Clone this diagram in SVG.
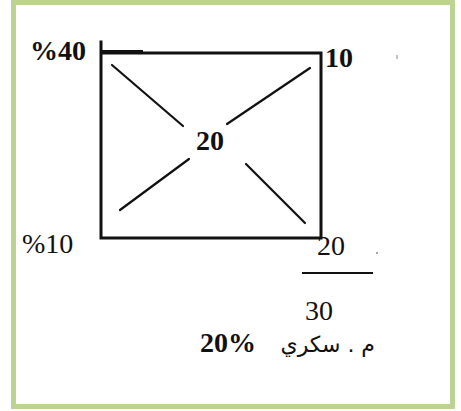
<svg xmlns="http://www.w3.org/2000/svg" width="461" height="411" viewBox="0 0 461 411">
<style>
text{font-family:"Liberation Serif","Times New Roman","DejaVu Serif",serif;fill:#111;font-size:28px}
.b{font-weight:bold}
.ar{font-family:"DejaVu Sans","Noto Sans",sans-serif;font-size:22px;font-weight:normal}
.edge{stroke:#111;stroke-width:3;fill:none;stroke-linecap:square}
.diag{stroke:#111;stroke-width:2.2;fill:none;stroke-linecap:round}
</style>
<rect x="0" y="0" width="461" height="411" fill="#ffffff"/>
<rect x="13.5" y="2.5" width="439" height="404" fill="#ffffff" stroke="#bdd391" stroke-width="5"/>
<g id="connectors">
<path class="edge" d="M101,42 V238 H321 V53 H101"/>
<path d="M101,51.5 H143" stroke="#111" stroke-width="3"/>
<line class="diag" x1="112" y1="65" x2="183" y2="126"/>
<line class="diag" x1="227" y1="124" x2="310" y2="68"/>
<line class="diag" x1="189" y1="159" x2="120" y2="210"/>
<line class="diag" x1="246" y1="164" x2="305" y2="223"/>
<line x1="302" y1="273" x2="373" y2="273" stroke="#111" stroke-width="2"/>
<line x1="397" y1="55" x2="397" y2="59" stroke="#888" stroke-width="1"/>
<line x1="377" y1="252" x2="377" y2="254" stroke="#888" stroke-width="1.5"/>
</g>
<g id="node-tl"><text class="b" x="30" y="60">%40</text></g>
<g id="node-tr"><text class="b" x="325" y="67">10</text></g>
<g id="node-center"><text class="b" x="210" y="150" text-anchor="middle">20</text></g>
<g id="node-bl"><text x="22" y="253">%10</text></g>
<g id="node-br"><text x="317" y="255">20</text></g>
<g id="node-30"><text x="305" y="320">30</text></g>
<g id="node-bottom">
<text class="b" x="200" y="352">20%</text>
<text class="ar" x="375" y="352" text-anchor="end">م . سكري</text>
</g>
</svg>
